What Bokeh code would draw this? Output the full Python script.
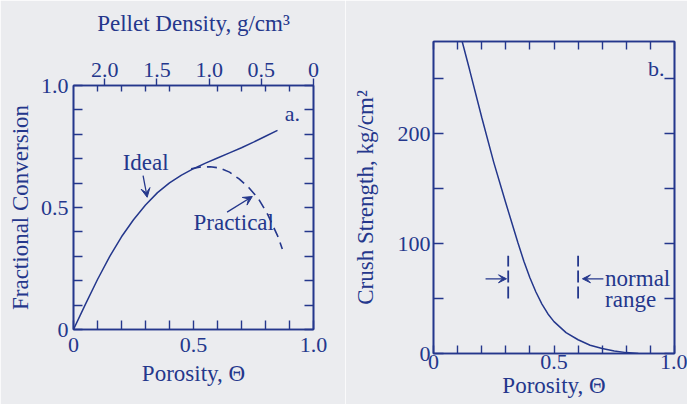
from bokeh.plotting import figure
from bokeh.layouts import row, column
from bokeh.models import (Range1d, LinearAxis, FixedTicker, Label, Arrow, VeeHead,
                          CustomJSTickFormatter, PrintfTickFormatter)
from bokeh.embed import file_html
from bokeh.resources import INLINE

INK = "#24378C"
BG = "#EBECEF"
FONT = "Liberation Serif"

# ---------------- data: panel a ----------------
ideal_porosity = [0, 0.05, 0.1, 0.15, 0.2, 0.25, 0.3, 0.35, 0.4, 0.45, 0.5, 0.55, 0.6,
                  0.65, 0.7, 0.75, 0.8, 0.85]
ideal_conversion = [0, 0.104, 0.205, 0.298, 0.38, 0.45, 0.51, 0.561, 0.601, 0.633, 0.659,
                    0.682, 0.703, 0.724, 0.745, 0.768, 0.792, 0.816]
practical_porosity = [0.49, 0.53, 0.57, 0.61, 0.65, 0.69, 0.73, 0.77, 0.81, 0.85, 0.87]
practical_conversion = [0.659, 0.666, 0.667, 0.662, 0.645, 0.617, 0.582, 0.537, 0.47, 0.385, 0.33]

porosity_major = [0, 0.5, 1.0]
porosity_minor = [0.1, 0.2, 0.3, 0.4, 0.6, 0.7, 0.8, 0.9]
conversion_major = [0, 0.5, 1.0]
conversion_minor = [0.1, 0.2, 0.3, 0.4, 0.6, 0.7, 0.8, 0.9]
density_major = [2.0, 1.5, 1.0, 0.5, 0]
SOLID_DENSITY = 2.3  # g/cm3 at zero porosity

# ---------------- data: panel b ----------------
strength_porosity = [0.119, 0.15, 0.2, 0.25, 0.3, 0.325, 0.35, 0.375, 0.4, 0.425, 0.45,
                     0.475, 0.5, 0.55, 0.6, 0.65, 0.7, 0.75, 0.8, 0.85]
crush_strength = [284, 258, 215, 174, 137, 119, 101, 84, 69, 56, 45, 36, 29, 19, 12.5,
                  7.5, 4.5, 2.3, 0.8, 0]
normal_range = [0.31, 0.60]
normal_marker_low = [50, 50]
normal_marker_high = [89, 89]
strength_major = [0, 100, 200]
strength_minor = [50, 150, 250]
STRENGTH_MAX = 284


def style(ax, size="22px", tin=9, tout=0, min_in=9, min_out=0, blank=False, standoff=4):
    ax.axis_line_color = INK
    ax.axis_line_width = 1.6
    ax.major_tick_line_color = INK
    ax.minor_tick_line_color = INK
    ax.major_tick_line_width = 1.4
    ax.minor_tick_line_width = 1.4
    ax.major_tick_in = tin
    ax.major_tick_out = tout
    ax.minor_tick_in = min_in
    ax.minor_tick_out = min_out
    ax.major_label_text_font = FONT
    ax.major_label_text_font_size = size
    ax.major_label_text_color = INK
    ax.major_label_standoff = standoff
    ax.axis_label_text_font = FONT
    ax.axis_label_text_font_size = "23px"
    ax.axis_label_text_font_style = "normal"
    ax.axis_label_text_color = INK
    if blank:
        ax.formatter = CustomJSTickFormatter(code="return ''")
        ax.major_label_standoff = 0


def base_fig(width, height, yr, borders):
    l, r, t, b = borders
    p = figure(width=width, height=height, x_range=Range1d(0, 1), y_range=yr,
               output_backend="svg", toolbar_location=None,
               x_axis_location=None, y_axis_location=None,
               min_border_left=l, min_border_right=r, min_border_top=t, min_border_bottom=b,
               background_fill_color=BG, border_fill_color=BG,
               outline_line_color=INK, outline_line_width=1.6)
    p.grid.visible = False
    return p


def note(p, x, y, text, size="23px"):
    p.add_layout(Label(x=x, y=y, text=text, text_font=FONT, text_font_size=size,
                       text_color=INK, text_align="left", text_baseline="middle"))


def pointer(p, xs, ys, xe, ye, size=9):
    p.add_layout(Arrow(end=VeeHead(size=size, line_color=INK, fill_color=INK, line_width=1),
                       x_start=xs, y_start=ys, x_end=xe, y_end=ye,
                       line_color=INK, line_width=1.3))


# ================= panel a =================
p1 = base_fig(345, 404, Range1d(0, 1), (73, 32, 85, 75))
p1.extra_x_ranges = {"density": Range1d(SOLID_DENSITY, 0)}

xb = LinearAxis(ticker=FixedTicker(ticks=porosity_major, minor_ticks=porosity_minor),
                axis_label="Porosity, Θ", formatter=PrintfTickFormatter(format="%.1f"),
                major_label_overrides={0: "0"})
style(xb, standoff=8)
xb.axis_label_standoff = 6
p1.add_layout(xb, "below")

xt = LinearAxis(x_range_name="density",
                ticker=FixedTicker(ticks=density_major,
                                   minor_ticks=[SOLID_DENSITY * (1 - t) for t in porosity_minor]),
                axis_label="Pellet Density, g/cm³", formatter=PrintfTickFormatter(format="%.1f"),
                major_label_overrides={0: "0"})
style(xt, tin=0, tout=7, min_in=6, min_out=0, standoff=2)
xt.axis_label_standoff = 24
p1.add_layout(xt, "above")

yl = LinearAxis(ticker=FixedTicker(ticks=conversion_major, minor_ticks=conversion_minor),
                axis_label="Fractional Conversion", formatter=PrintfTickFormatter(format="%.1f"),
                major_label_overrides={0: "0"})
style(yl, standoff=5)
yl.axis_label_standoff = 5
p1.add_layout(yl, "left")

yr_ax = LinearAxis(ticker=FixedTicker(ticks=conversion_major, minor_ticks=conversion_minor))
style(yr_ax, blank=True)
p1.add_layout(yr_ax, "right")

p1.line(ideal_porosity, ideal_conversion, line_color=INK, line_width=1.5)
p1.line(practical_porosity, practical_conversion, line_color=INK, line_width=1.6,
        line_dash="10 6")

note(p1, 0.88, 0.885, "a.", "22px")
note(p1, 0.205, 0.686, "Ideal")
note(p1, 0.50, 0.44, "Practical")
pointer(p1, 0.29, 0.631, 0.307, 0.542)
pointer(p1, 0.64, 0.481, 0.745, 0.545)

# ================= panel b =================
p2 = base_fig(342, 404, Range1d(0, STRENGTH_MAX), (88, 13, 41, 51))

xb2 = LinearAxis(ticker=FixedTicker(ticks=porosity_major, minor_ticks=porosity_minor),
                 axis_label="Porosity, Θ", formatter=PrintfTickFormatter(format="%.1f"),
                 major_label_overrides={0: "0"})
style(xb2, tin=8, min_in=8, standoff=1)
xb2.axis_label_standoff = 1
p2.add_layout(xb2, "below")

xt2 = LinearAxis(ticker=FixedTicker(ticks=porosity_major, minor_ticks=porosity_minor))
style(xt2, tin=8, min_in=8, blank=True)
p2.add_layout(xt2, "above")

yl2 = LinearAxis(ticker=FixedTicker(ticks=strength_major, minor_ticks=strength_minor),
                 axis_label="Crush Strength, kg/cm²")
style(yl2, tin=10, min_in=10, standoff=3)
yl2.axis_label_standoff = 17
p2.add_layout(yl2, "left")

yr2 = LinearAxis(ticker=FixedTicker(ticks=strength_major, minor_ticks=strength_minor))
style(yr2, tin=10, min_in=10, blank=True)
p2.add_layout(yr2, "right")

p2.line(strength_porosity, crush_strength, line_color=INK, line_width=1.5)
p2.segment(x0=normal_range, y0=normal_marker_low, x1=normal_range, y1=normal_marker_high,
           line_color=INK, line_width=1.8, line_dash="12 4")

note(p2, 0.89, 259, "b.", "22px")
note(p2, 0.712, 68.5, "normal")
note(p2, 0.712, 49, "range")
pointer(p2, 0.216, 68, 0.303, 68, 8)
pointer(p2, 0.705, 68, 0.618, 68, 8)

layout = row(column(p1), column(p2))
open("out.html", "w").write(file_html(layout, INLINE))
